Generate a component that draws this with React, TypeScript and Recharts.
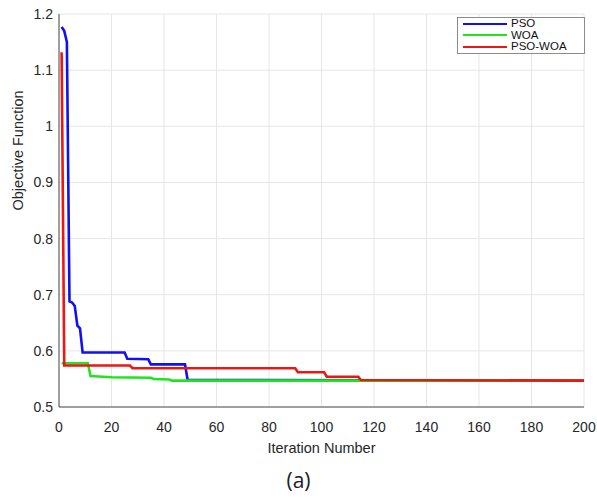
import React from "react";
import {
  LineChart,
  Line,
  XAxis,
  YAxis,
  CartesianGrid,
  Legend,
} from "recharts";

// breakpoints of each convergence curve: iteration, objective value
const psoIter = [1, 2, 3, 4, 5, 6, 7, 8, 9, 25, 26, 34, 35, 48, 49, 200];
const psoVal = [1.177, 1.17, 1.15, 0.688, 0.686, 0.68, 0.645, 0.64, 0.597, 0.597, 0.586, 0.585, 0.576, 0.576, 0.548, 0.547];

const woaIter = [1, 11, 12, 20, 35, 36, 42, 43, 200];
const woaVal = [0.578, 0.578, 0.555, 0.553, 0.552, 0.55, 0.549, 0.547, 0.547];

const hybIter = [1, 2, 27, 28, 90, 91, 101, 102, 114, 115, 200];
const hybVal = [1.132, 0.574, 0.574, 0.569, 0.569, 0.562, 0.562, 0.554, 0.554, 0.548, 0.547];

const xTicks = [0, 20, 40, 60, 80, 100, 120, 140, 160, 180, 200];
const yTicks = [0.5, 0.6, 0.7, 0.8, 0.9, 1, 1.1, 1.2];

const toPoints = (xs: number[], ys: number[]) => xs.map((x, i) => ({ x, y: ys[i] }));

const series = [
  { name: "PSO", color: "#1010f0", data: toPoints(psoIter, psoVal) },
  { name: "WOA", color: "#1ee61e", data: toPoints(woaIter, woaVal) },
  { name: "PSO-WOA", color: "#ee1515", data: toPoints(hybIter, hybVal) },
];

const font = "'Liberation Sans', Arial, sans-serif";

function LegendBox() {
  return (
    <div
      style={{
        border: "1px solid #8c8c8c",
        background: "#fff",
        width: 126,
        height: 35,
        boxSizing: "content-box",
        padding: "0",
        fontFamily: font,
        fontSize: 11.5,
        lineHeight: "11.5px",
        color: "#111",
        textAlign: "left",
      }}
    >
      {series.map((s) => (
        <div key={s.name} style={{ display: "flex", alignItems: "center", height: 11.5 }}>
          <div style={{ width: 44, height: 2, background: s.color, marginLeft: 5, marginRight: 4 }} />
          <span>{s.name}</span>
        </div>
      ))}
    </div>
  );
}

export default function App() {
  return (
    <div style={{ position: "absolute", left: 0, top: 0, width: 597, height: 501, background: "#fff" }}>
      <LineChart width={597} height={501} margin={{ top: 14, right: 13, left: 0, bottom: 64 }}>
        <CartesianGrid stroke="#e6e6e6" />
        <XAxis
          type="number"
          dataKey="x"
          domain={[0, 200]}
          ticks={xTicks}
          allowDataOverflow
          height={30}
          stroke="#4d4d4d"
          tickLine={false}
          tickSize={6}
          tickMargin={9}
          tick={{ fill: "#262626", fontSize: 14, fontFamily: font }}
          label={{ value: "Iteration Number", position: "bottom", offset: 6, fill: "#262626", fontSize: 14.5, fontFamily: font }}
        />
        <YAxis
          type="number"
          dataKey="y"
          width={59}
          domain={[0.5, 1.2]}
          ticks={yTicks}
          allowDataOverflow
          stroke="#4d4d4d"
          tickLine={false}
          tickSize={4}
          tickMargin={2}
          tickFormatter={(v: number) => String(Number(v.toFixed(1)))}
          tick={{ fill: "#262626", fontSize: 14, fontFamily: font }}
          label={{ value: "Objective Function", angle: -90, position: "insideLeft", offset: 18, fill: "#262626", fontSize: 14.5, fontFamily: font }}
        />
        <Legend
          layout="horizontal"
          verticalAlign="middle"
          align="center"
          content={() => <LegendBox />}
          wrapperStyle={{ position: "absolute", top: 17, left: 457, width: 128 }}
        />
        {series.map((s) => (
          <Line
            key={s.name}
            data={s.data}
            dataKey="y"
            name={s.name}
            type="linear"
            stroke={s.color}
            strokeWidth={2.6}
            dot={false}
            isAnimationActive={false}
          />
        ))}
      </LineChart>
      <div
        style={{
          position: "absolute",
          left: 0,
          width: 597,
          top: 466,
          textAlign: "center",
          fontFamily: "'Open Sans', sans-serif",
          fontSize: 21,
          color: "#222",
        }}
      >
        (a)
      </div>
    </div>
  );
}
